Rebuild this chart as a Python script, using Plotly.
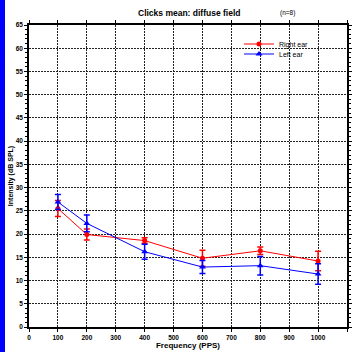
import plotly.graph_objects as go

freq = [100, 200, 400, 600, 800, 1000]
right_ear = [25.5, 19.9, 18.6, 14.8, 16.4, 14.2]
right_err = [1.7, 1.2, 0.6, 1.7, 0.8, 2.1]
left_ear = [26.9, 22.3, 16.2, 12.9, 13.2, 11.4]
left_err = [1.6, 1.8, 1.6, 1.4, 2.0, 2.2]

x_ticks = [0, 100, 200, 300, 400, 500, 600, 700, 800, 900, 1000, 1100]
y_ticks = [0, 5, 10, 15, 20, 25, 30, 35, 40, 45, 50, 55, 60, 65]

FONT = "Liberation Sans, Arial, sans-serif"
W, H = 353, 352
ML, MR, MT, MB = 29, 6, 25, 25
PW, PH = W - ML - MR, H - MT - MB


def px_x(x):
    return (x - ML) / PW


def px_y(y):
    return (H - MB - y) / PH


fig = go.Figure()
fig.add_trace(go.Scatter(
    x=freq, y=right_ear, name="Right ear", mode="lines+markers",
    line=dict(color="#ff0000", width=1),
    marker=dict(symbol="circle", size=5, color="#ff0000"),
    error_y=dict(type="data", array=right_err, color="#ff0000", thickness=1.5, width=3),
    legend="legend",
))
fig.add_trace(go.Scatter(
    x=freq, y=left_ear, name="Left ear", mode="lines+markers",
    line=dict(color="#0000ff", width=1),
    marker=dict(symbol="triangle-up", size=6, color="#0000ff"),
    error_y=dict(type="data", array=left_err, color="#0000ff", thickness=1.5, width=3),
    legend="legend2",
))

leg_common = dict(xanchor="left", yanchor="middle", bgcolor="rgba(0,0,0,0)",
                  font=dict(size=7, family=FONT, color="black"), itemwidth=30,
                  borderwidth=0)

fig.update_layout(
    width=W, height=H,
    margin=dict(l=ML, r=MR, t=MT, b=MB, autoexpand=False),
    paper_bgcolor="white", plot_bgcolor="white",
    font=dict(family=FONT, size=7, color="black"),
    showlegend=True,
    legend=dict(x=px_x(239), y=px_y(44), **leg_common),
    legend2=dict(x=px_x(239), y=px_y(54), **leg_common),
    annotations=[
        dict(text="<b>Clicks mean: diffuse field</b>", x=px_x(189), y=px_y(13),
             xref="paper", yref="paper", showarrow=False, xanchor="center", yanchor="middle",
             font=dict(size=8.5, family=FONT, color="black")),
        dict(text="(n=8)", x=px_x(287), y=px_y(13), xref="paper", yref="paper",
             showarrow=False, xanchor="center", yanchor="middle",
             font=dict(size=6.5, family=FONT, color="black")),
    ],
    shapes=[dict(type="rect", xref="paper", yref="paper", x0=px_x(0), x1=px_x(5),
                 y0=px_y(H), y1=px_y(0), fillcolor="#0000ff", line=dict(width=0), layer="above")],
)

tickfont = dict(size=6.5, family=FONT, color="black", weight="bold")

fig.update_xaxes(
    range=[0, 1100], tickvals=x_ticks, ticktext=[str(v) for v in x_ticks],
    showgrid=True, gridcolor="#222222", griddash="2px,1px", gridwidth=1,
    showline=True, linecolor="black", linewidth=1.5, mirror="ticks",
    ticks="outside", ticklen=3, tickcolor="black", zeroline=False, automargin=False,
    title=dict(text="<b>Frequency (PPS)</b>", font=dict(size=8, family=FONT, color="black"), standoff=1),
    tickfont=tickfont,
)
fig.update_yaxes(
    range=[0, 65], tickvals=y_ticks, ticktext=[str(v) for v in y_ticks],
    showgrid=True, gridcolor="#222222", griddash="2px,1px", gridwidth=1,
    showline=True, linecolor="black", linewidth=1.5, mirror="ticks",
    ticks="outside", ticklen=3, tickcolor="black", zeroline=False, automargin=False,
    minor=dict(dtick=1, ticks="outside", ticklen=2, tickcolor="black", showgrid=False),
    title=dict(text="<b>Intensity (dB SPL)</b>", font=dict(size=7, family=FONT, color="black"), standoff=1),
    tickfont=tickfont,
)

fig.write_html("out.html", config={"displayModeBar": False},
               post_script="document.body.style.margin='0';document.body.style.overflow='hidden';")
